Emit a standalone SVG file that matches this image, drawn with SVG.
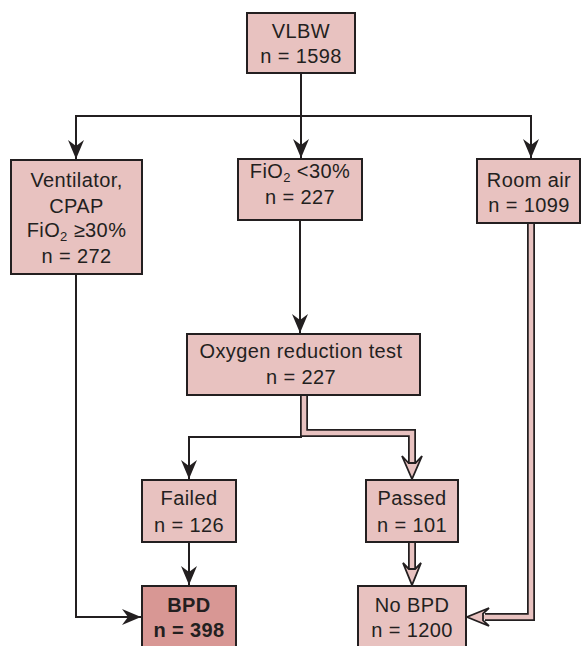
<svg xmlns="http://www.w3.org/2000/svg" width="581" height="646" viewBox="0 0 581 646">
  <style>
    .box { fill: #e8c2c0; stroke: #231f20; stroke-width: 2; }
    .box.key { fill: #d89794; }
    .lbl { font-family: "Liberation Sans", Arial, sans-serif; font-size: 20px; letter-spacing: 0.4px; fill: #231f20; text-anchor: middle; }
    .bold { font-weight: bold; }
    .sub { font-size: 13px; }
    .wire { fill: none; stroke: #231f20; stroke-width: 2; }
    .pipe-out { fill: none; stroke: #231f20; stroke-width: 8; stroke-linejoin: miter; }
    .pipe-in { fill: none; stroke: #e8c2c0; stroke-width: 4.5; stroke-linejoin: miter; }
    .hollow { fill: #e8c2c0; stroke: #231f20; stroke-width: 1.8; stroke-linejoin: miter; }
  </style>
  <defs>
    <marker id="arrow" markerUnits="userSpaceOnUse" markerWidth="20" markerHeight="18" viewBox="-19 -9 20 18" refX="0" refY="0" orient="auto">
      <path d="M0,0 L-19,-8 L-13,0 L-19,8 Z" fill="#231f20"/>
    </marker>
  </defs>

  <rect width="581" height="646" fill="#ffffff"/>

  <g id="connectors">
    <!-- single-line flows -->
    <path class="wire" d="M301,73 V158" marker-end="url(#arrow)"/>
    <path class="wire" d="M76,159 V116 H531 V158" marker-end="url(#arrow)"/>
    <path class="wire" d="M76,116 V159" marker-end="url(#arrow)"/>
    <path class="wire" d="M300,220 V333" marker-end="url(#arrow)"/>
    <path class="wire" d="M302,437 H189 V479" marker-end="url(#arrow)"/>
    <path class="wire" d="M189,542 V585" marker-end="url(#arrow)"/>
    <path class="wire" d="M76,274 V617 H141" marker-end="url(#arrow)"/>

    <!-- double-line flows toward No BPD -->
    <path class="pipe-out" d="M304,395 V433 H412 V466"/>
    <path class="pipe-in" d="M304,394 V433 H412 V468"/>
    <polygon class="hollow" points="408.5,463 402,456 412,479 422,456 415.5,463"/>

    <path class="pipe-out" d="M412,542 V568"/>
    <path class="pipe-in" d="M412,541 V570"/>
    <polygon class="hollow" points="408.8,569 403,563 412,585 421,563 415.2,569"/>

    <path class="pipe-out" d="M531,223 V617 H485"/>
    <path class="pipe-in" d="M531,222 V617 H483"/>
    <polygon class="hollow" points="483,613.6 489,608 467,617 489,626 483,620.4"/>
  </g>

  <g id="vlbw">
    <rect class="box" x="247" y="13" width="108" height="60"/>
    <text class="lbl" x="301" y="38">VLBW</text>
    <text class="lbl" x="301" y="63">n = 1598</text>
  </g>

  <g id="ventilator">
    <rect class="box" x="11" y="160" width="131" height="114"/>
    <text class="lbl" x="76.5" y="187">Ventilator,</text>
    <text class="lbl" x="76.5" y="213">CPAP</text>
    <text class="lbl" x="76.5" y="237">FiO<tspan class="sub" dy="4">2</tspan><tspan dy="-4"> ≥30%</tspan></text>
    <text class="lbl" x="76.5" y="263">n = 272</text>
  </g>

  <g id="fio2-low">
    <rect class="box" x="238" y="159" width="124" height="61"/>
    <text class="lbl" x="300" y="178">FiO<tspan class="sub" dy="4">2</tspan><tspan dy="-4"> &lt;30%</tspan></text>
    <text class="lbl" x="300" y="204">n = 227</text>
  </g>

  <g id="room-air">
    <rect class="box" x="477" y="159" width="103" height="64"/>
    <text class="lbl" x="529" y="187">Room air</text>
    <text class="lbl" x="529" y="212">n = 1099</text>
  </g>

  <g id="oxygen-test">
    <rect class="box" x="187" y="334" width="233" height="61"/>
    <text class="lbl" x="301" y="358">Oxygen reduction test</text>
    <text class="lbl" x="301" y="384">n = 227</text>
  </g>

  <g id="failed">
    <rect class="box" x="142" y="480" width="94" height="62"/>
    <text class="lbl" x="189" y="505">Failed</text>
    <text class="lbl" x="189" y="532">n = 126</text>
  </g>

  <g id="passed">
    <rect class="box" x="366" y="480" width="92" height="62"/>
    <text class="lbl" x="412" y="505">Passed</text>
    <text class="lbl" x="412" y="532">n = 101</text>
  </g>

  <g id="bpd">
    <rect class="box key" x="142" y="586" width="94" height="70"/>
    <text class="lbl bold" x="189" y="612">BPD</text>
    <text class="lbl bold" x="189" y="637">n = 398</text>
  </g>

  <g id="no-bpd">
    <rect class="box" x="358" y="586" width="108" height="70"/>
    <text class="lbl" x="412" y="612">No BPD</text>
    <text class="lbl" x="412" y="637">n = 1200</text>
  </g>
</svg>
